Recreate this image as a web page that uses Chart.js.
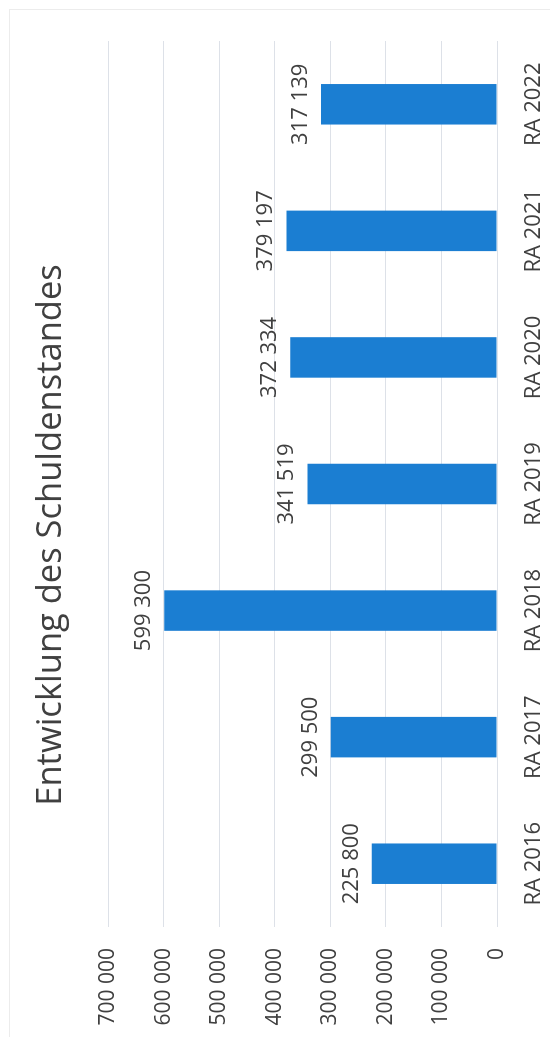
<!DOCTYPE html>
<html>
<head>
<meta charset="utf-8">
<script src="https://cdn.jsdelivr.net/npm/chart.js@4.4.1/dist/chart.umd.min.js"></script>
<style>
  html, body { margin: 0; padding: 0; background: #ffffff; overflow: hidden; }
  body { width: 550px; height: 1037px; position: relative; }
  #frame { position: absolute; left: 9px; top: 9px; width: 600px; height: 1100px;
           border-left: 1px solid #ececec; border-top: 1px solid #ececec; }
  #wrap { position: absolute; left: 0; top: 0; width: 1037px; height: 550px;
          transform-origin: 0 0; transform: translate(0, 1037px) rotate(-90deg); }
  canvas { display: block; }
</style>
</head>
<body>
<div id="frame"></div>
<div id="wrap"><canvas id="c" width="1037" height="550"></canvas></div>
<script>
const titleText = 'Entwicklung des Schuldenstandes';
const categories = ['RA 2016', 'RA 2017', 'RA 2018', 'RA 2019', 'RA 2020', 'RA 2021', 'RA 2022'];
const debtValues = [225800, 299500, 599300, 341519, 372334, 379197, 317139];
const tickValues = [0, 100000, 200000, 300000, 400000, 500000, 600000, 700000];

const fmt = v => String(v).replace(/\B(?=(\d{3})+(?!\d))/g, ' ');
const textColor = '#404040';
const fontFamily = "'Open Sans', 'Noto Sans', sans-serif";

const valueLabels = {
  id: 'valueLabels',
  afterLayout(chart) {
    // centre the title over the chart frame
    if (chart.titleBlock) { chart.titleBlock.left = 0; chart.titleBlock.right = 1004; }
  },
  afterDatasetsDraw(chart) {
    const ctx = chart.ctx;
    const meta = chart.getDatasetMeta(0);
    ctx.save();
    ctx.fillStyle = textColor;
    ctx.font = "22px " + fontFamily;
    ctx.textAlign = 'center';
    ctx.textBaseline = 'alphabetic';
    meta.data.forEach((bar, i) => {
      ctx.fillText(fmt(chart.data.datasets[0].data[i]), bar.x, bar.y - 14);
    });
    ctx.restore();
  }
};

new Chart(document.getElementById('c'), {
  type: 'bar',
  data: {
    labels: categories,
    datasets: [{
      data: debtValues,
      backgroundColor: '#1b7ed2',
      borderWidth: 0,
      categoryPercentage: 1.0,
      barPercentage: 0.32
    }]
  },
  options: {
    responsive: false,
    animation: false,
    devicePixelRatio: 1,
    layout: { padding: { left: 0, right: 41, top: 0, bottom: 0 } },
    plugins: {
      legend: { display: false },
      tooltip: { enabled: false },
      title: {
        display: true,
        text: titleText,
        color: textColor,
        font: { family: fontFamily, size: 34.5, weight: 'normal', lineHeight: 1.2 },
        padding: { top: 30, bottom: 37 }
      }
    },
    scales: {
      x: {
        grid: { display: false },
        border: { display: false },
        ticks: {
          color: textColor,
          font: { family: fontFamily, size: 22 },
          padding: 16,
          maxRotation: 0,
          autoSkip: false
        },
        afterFit(s) { s.height = 53; }
      },
      y: {
        min: 0,
        max: 700000,
        afterBuildTicks(s) { s.ticks = tickValues.map(v => ({ value: v })); },
        grid: { color: '#dde1e8', lineWidth: 1, drawTicks: false },
        border: { display: false },
        ticks: {
          color: textColor,
          font: { family: fontFamily, size: 21 },
          padding: 21,
          callback: v => fmt(v)
        },
        afterFit(s) { s.width = 110; }
      }
    }
  },
  plugins: [valueLabels]
});
</script>
</body>
</html>
